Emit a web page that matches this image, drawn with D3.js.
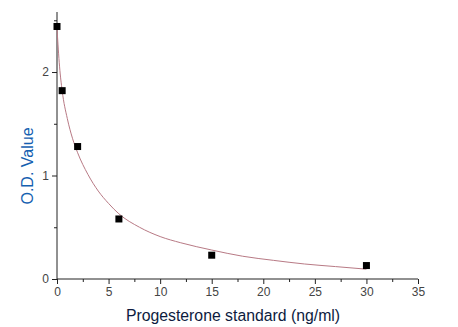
<!DOCTYPE html>
<html><head><meta charset="utf-8">
<script src="https://cdn.jsdelivr.net/npm/d3@7"></script>
<style>body{margin:0;background:#fff}svg{display:block}</style>
</head><body>
<script>
// Measured standards
const concentrations = [0, 0.5, 2, 6, 15, 30];
const odValues = [2.44, 1.82, 1.28, 0.58, 0.23, 0.13];
// Fitted curve
const curveX = [0, 0.25, 0.5, 1, 1.5, 2, 3, 4, 5, 6, 8, 10, 12, 15, 18, 21, 24, 27, 30];
const curveY = [2.42, 2.05, 1.82, 1.55, 1.36, 1.22, 1.01, 0.85, 0.73, 0.63, 0.5, 0.41, 0.35, 0.28, 0.22, 0.18, 0.145, 0.12, 0.095];
const xTicks = [0, 5, 10, 15, 20, 25, 30, 35];
const xMinor = [2.5, 7.5, 12.5, 17.5, 22.5, 27.5, 32.5];
const yTicks = [0, 1, 2];
const yMinor = [0.5, 1.5, 2.5];

const W = 458, H = 327;
const svg = d3.select("body").append("svg").attr("width", W).attr("height", H);
const x = d3.scaleLinear().domain([0, 35]).range([57, 418]);
const y = d3.scaleLinear().domain([0, 2.58]).range([279, 12]);
const font = "Liberation Sans, Arial, sans-serif";

// axes
const xAxis = svg.append("g").attr("transform", `translate(0,${y(0)})`)
  .call(d3.axisBottom(x).tickValues(xTicks).tickSize(5).tickPadding(3).tickFormat(d3.format("d")));
svg.append("g").attr("transform", `translate(0,${y(0)})`)
  .call(d3.axisBottom(x).tickValues(xMinor).tickSize(3).tickFormat(""))
  .select(".domain").remove();
const yAxis = svg.append("g").attr("transform", `translate(${x(0)},0)`)
  .call(d3.axisLeft(y).tickValues(yTicks).tickSize(5).tickPadding(3).tickFormat(d3.format("d")));
svg.append("g").attr("transform", `translate(${x(0)},0)`)
  .call(d3.axisLeft(y).tickValues(yMinor).tickSize(3).tickFormat(""))
  .select(".domain").remove();
xAxis.select(".domain").attr("d", `M${x(0)},0H${x(35)}`);
yAxis.select(".domain").attr("d", `M0,${y(2.58)}V${y(0)}`);
svg.selectAll(".tick line").attr("stroke", "#222");
svg.selectAll(".domain").attr("stroke", "#222");
svg.selectAll(".tick text").attr("font-family", font).attr("font-size", 12).attr("fill", "#444");

// curve
const line = d3.line().x((d, i) => x(curveX[i])).y((d, i) => y(curveY[i])).curve(d3.curveMonotoneX);
svg.append("path").datum(curveX).attr("d", line)
  .attr("fill", "none").attr("stroke", "#b87a85").attr("stroke-width", 1);

// points
svg.selectAll("rect.pt").data(concentrations).join("rect").attr("class", "pt")
  .attr("x", (d) => x(d) - 3.5).attr("y", (d, i) => y(odValues[i]) - 3.5)
  .attr("width", 7).attr("height", 7).attr("fill", "#000");

// labels
svg.append("text").attr("x", 233).attr("y", 321).attr("text-anchor", "middle")
  .attr("font-family", font).attr("font-size", 15.8).attr("fill", "#0d1b3e")
  .text("Progesterone standard (ng/ml)");
svg.append("text").attr("transform", `translate(33,166) rotate(-90)`).attr("text-anchor", "middle")
  .attr("font-family", font).attr("font-size", 16).attr("fill", "#1560b0")
  .text("O.D. Value");
</script>
</body></html>
